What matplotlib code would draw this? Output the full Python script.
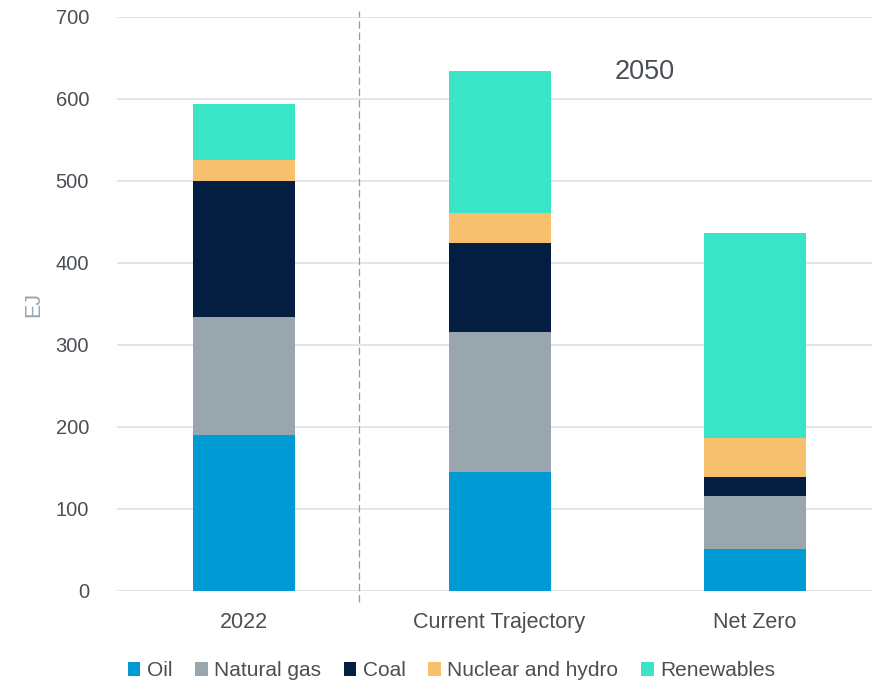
import matplotlib.pyplot as plt
import numpy as np

categories = ["2022", "Current Trajectory", "Net Zero"]
series = ["Oil", "Natural gas", "Coal", "Nuclear and hydro", "Renewables"]
oil = [190, 145, 51]
natural_gas = [144, 171, 65]
coal = [166, 108, 23]
nuclear_hydro = [25, 37, 48]
renewables = [69, 173, 250]
colors = ["#009ad4", "#9aa6ae", "#041e42", "#f7c06e", "#3ae4c6"]

text_color = "#4a4f55"
plt.rcParams['font.family'] = ['Liberation Sans', 'DejaVu Sans']

fig = plt.figure(figsize=(8.72, 6.8), dpi=100)
ax = fig.add_axes([0.134, 0.131, 0.866, 0.844])

x = np.arange(len(categories))
bottom = np.zeros(len(categories))
for name, vals, c in zip(series, [oil, natural_gas, coal, nuclear_hydro, renewables], colors):
    ax.bar(x, vals, 0.4, bottom=bottom, color=c, label=name, zorder=3)
    bottom += np.array(vals)

ax.set_xlim(-0.5, 2.46)
ax.set_ylim(0, 700)
ax.set_yticks(range(0, 701, 100))
ax.set_xticks(x)
ax.set_xticklabels(categories)
ax.grid(axis="y", color="#dde1e5", linewidth=1.2, zorder=0)
for s in ax.spines.values():
    s.set_visible(False)
ax.tick_params(axis="both", length=0, colors=text_color)
ax.tick_params(axis="x", pad=15, labelsize=15.5)
ax.tick_params(axis="y", pad=20, labelsize=14.5)
ax.set_ylabel("EJ", color="#9aa6ae", fontsize=15.5, labelpad=8)

ax.axvline(0.45, ymin=-0.02, ymax=1.01, color="#999999", linestyle=(0, (6, 3)),
           linewidth=0.9, clip_on=False, zorder=2)
ax.text(1.57, 633, "2050", ha="center", va="center", fontsize=19.5, color=text_color)

ax.legend(loc="upper center", bbox_to_anchor=(0.443, -0.09), ncol=5, frameon=False,
          fontsize=15, handlelength=0.6, handleheight=0.6, handletextpad=0.3,
          columnspacing=1.1, labelcolor=text_color)

fig.savefig("out.png", dpi=100)
